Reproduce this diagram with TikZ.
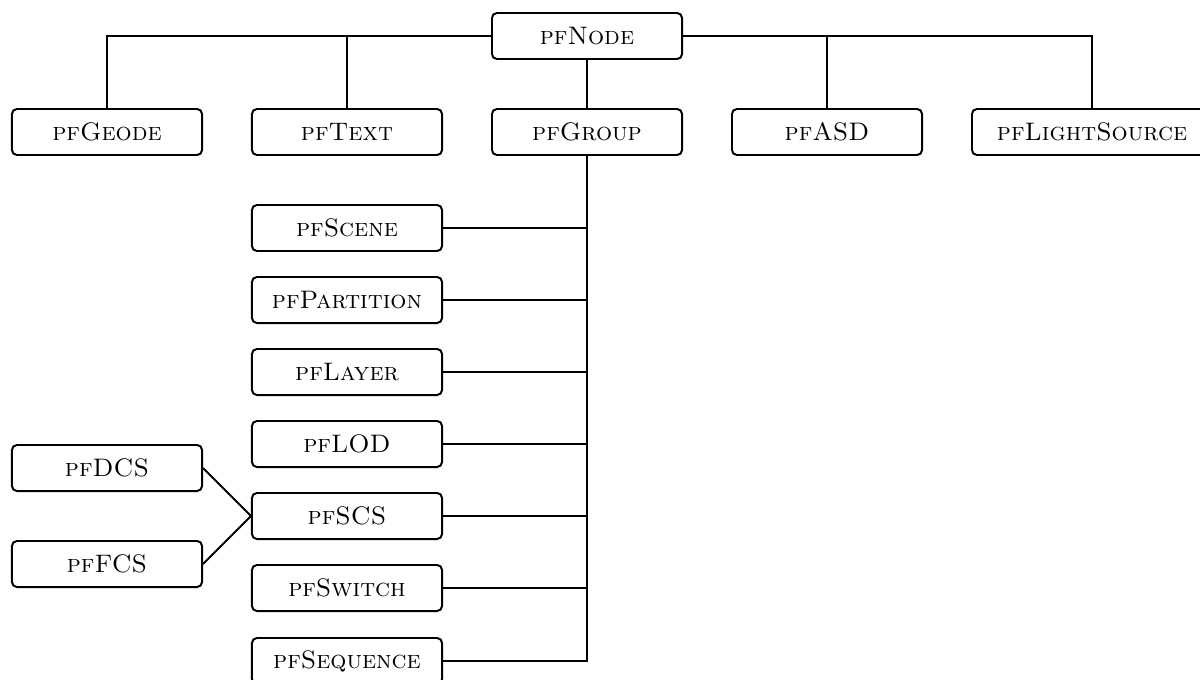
\documentclass[tikz,border=0pt]{standalone}
\usetikzlibrary{positioning}

\tikzset{
  cls/.style={draw,rounded corners=3.5pt,line width=1.4pt,
    minimum width=4.75cm,minimum height=1.15cm,inner sep=2pt,
    font=\fontsize{18}{20}\selectfont},
  link/.style={line width=1.4pt}
}

\begin{document}
\begin{tikzpicture}[x=0.025cm,y=-0.025cm]
\useasboundingbox (0,0) rectangle (1200,679);
% root and first level
\node[cls] (node) at (587,36) {\textsc{pfNode}};
\node[cls] (geode) at (107,132) {\textsc{pfGeode}};
\node[cls] (text) at (347,132) {\textsc{pfText}};
\node[cls] (group) at (587,132) {\textsc{pfGroup}};
\node[cls] (asd) at (827,132) {\textsc{pfASD}};
\node[cls,minimum width=6cm] (light) at (1092,132) {\textsc{pfLightSource}};
% children of pfGroup
\node[cls] (scene) at (347,228) {\textsc{pfScene}};
\node[cls] (partition) at (347,300) {\textsc{pfPartition}};
\node[cls] (layer) at (347,372) {\textsc{pfLayer}};
\node[cls] (lod) at (347,444) {\textsc{pfLOD}};
\node[cls] (scs) at (347,516) {\textsc{pfSCS}};
\node[cls] (switch) at (347,588) {\textsc{pfSwitch}};
\node[cls] (sequence) at (347,661) {\textsc{pfSequence}};
% children of pfSCS
\node[cls] (dcs) at (107,468) {\textsc{pfDCS}};
\node[cls] (fcs) at (107,564) {\textsc{pfFCS}};

\draw[link] (node.west) -| (geode.north);
\draw[link] (node.west) -| (text.north);
\draw[link] (node) -- (group);
\draw[link] (node.east) -| (asd.north);
\draw[link] (node.east) -| (light.north);
\foreach \c in {scene,partition,layer,lod,scs,switch,sequence}
  \draw[link] (group.south) |- (\c.east);
\draw[link] (dcs.east) -- (scs.west);
\draw[link] (fcs.east) -- (scs.west);
\end{tikzpicture}
\end{document}
